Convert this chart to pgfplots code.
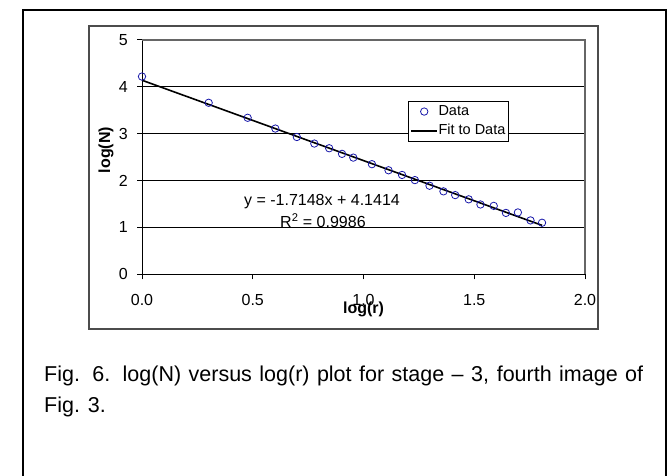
\documentclass[border=0pt]{standalone}
\usepackage{fontspec}
\setmainfont{Liberation Sans}
\usepackage{pgfplots}
\pgfplotsset{compat=1.18}
\definecolor{markblue}{RGB}{25,25,170}
\pgfplotsset{
  mylegdata/.style={legend image code/.code={\draw[##1] plot coordinates {(13bp,0bp)}; \path (0bp,0bp) (26bp,0bp);}},
  mylegline/.style={legend image code/.code={\draw[##1] (0bp,0bp) -- (26bp,0bp);}}
}
\begin{document}
\begin{tikzpicture}
\useasboundingbox (0bp,0bp) rectangle (672bp,476bp);
\draw[line width=2bp] (23bp,-2bp) -- (23bp,466bp) -- (666bp,466bp) -- (666bp,-2bp);
\draw[line width=1.2bp, black!70] (89bp,450bp) rectangle (598bp,147bp);
\begin{axis}[
  at={(142bp,201.7bp)}, anchor=south west,
  scale only axis, width=443bp, height=234.3bp,
  xmin=0, xmax=2, ymin=0, ymax=5,
  clip=false,
  xtick={0,0.5,1,1.5,2}, ytick={0,1,2,3,4,5},
  axis x line*=bottom, axis y line*=left,
  axis line style={black, line width=1bp, -},
  tick align=outside, major tick length=5bp,
  tick style={black, line width=1bp},
  ymajorgrids, major grid style={black, line width=0.8bp},
  /pgf/number format/assume math mode=true,
  ticklabel style={font=\fontsize{16bp}{19bp}\selectfont, inner sep=0pt},
  xticklabel={\pgfmathprintnumber[fixed,fixed zerofill,precision=1]{\tick}},
  xticklabel style={anchor=north, yshift=-14.7bp},
  yticklabel style={anchor=east, xshift=-9bp},
  xlabel={log(r)},
  xlabel style={at={(rel axis cs:0.5,0)}, anchor=base, yshift=-39bp, inner sep=0pt, font=\fontsize{16bp}{19bp}\selectfont\bfseries},
  ylabel={log(N)},
  ylabel style={at={(rel axis cs:0,0.53)}, anchor=base, yshift=32bp, inner sep=0pt, font=\fontsize{16bp}{19bp}\selectfont\bfseries},
  legend style={at={(axis cs:1.201,3.70)}, anchor=north west, draw=black, line width=0.8bp, fill=white,
    font=\fontsize{14.5bp}{17bp}\selectfont, inner xsep=2bp, inner ysep=3bp, row sep=5bp,
    nodes={inner sep=0.5bp, text height=10.5bp, text depth=3bp}},
  legend cell align=left,
]
\addplot[only marks, mark=o, mark size=3.7bp, color=markblue, mark options={line width=0.8bp}, mylegdata]
  table[row sep=\\] {
x y \\
0.000 4.22 \\
0.301 3.66 \\
0.477 3.34 \\
0.602 3.11 \\
0.699 2.93 \\
0.778 2.79 \\
0.845 2.69 \\
0.903 2.57 \\
0.954 2.49 \\
1.038 2.35 \\
1.113 2.22 \\
1.174 2.12 \\
1.232 2.01 \\
1.298 1.89 \\
1.361 1.77 \\
1.414 1.69 \\
1.475 1.60 \\
1.528 1.49 \\
1.588 1.46 \\
1.643 1.31 \\
1.697 1.32 \\
1.754 1.15 \\
1.806 1.10 \\
};
\addplot[black, line width=1.6bp, mylegline]
  coordinates {(0,4.1414) (1.806,1.0445)};
\legend{Data, Fit to Data}
\node[anchor=base, font=\fontsize{16bp}{19bp}\selectfont, inner sep=0pt] at (axis cs:0.8126,1.464) {y = -1.7148x + 4.1414};
\node[anchor=base, font=\fontsize{16bp}{19bp}\selectfont, inner sep=0pt] at (axis cs:0.817,1.004) {R\textsuperscript{2} = 0.9986};
\draw[black!60, line width=1.2bp] (rel axis cs:0,1) -- (rel axis cs:1,1) -- (rel axis cs:1,0);
\end{axis}
\node[anchor=base west, inner sep=0pt, font=\fontsize{21.5bp}{26bp}\selectfont] at (44bp,94bp)
  {\hbox to 599bp{Fig. 6. log(N) versus log(r) plot for stage – 3, fourth image of}};
\node[anchor=base west, inner sep=0pt, font=\fontsize{21.5bp}{26bp}\selectfont] at (44bp,63bp) {Fig. 3.};
\end{tikzpicture}
\end{document}
